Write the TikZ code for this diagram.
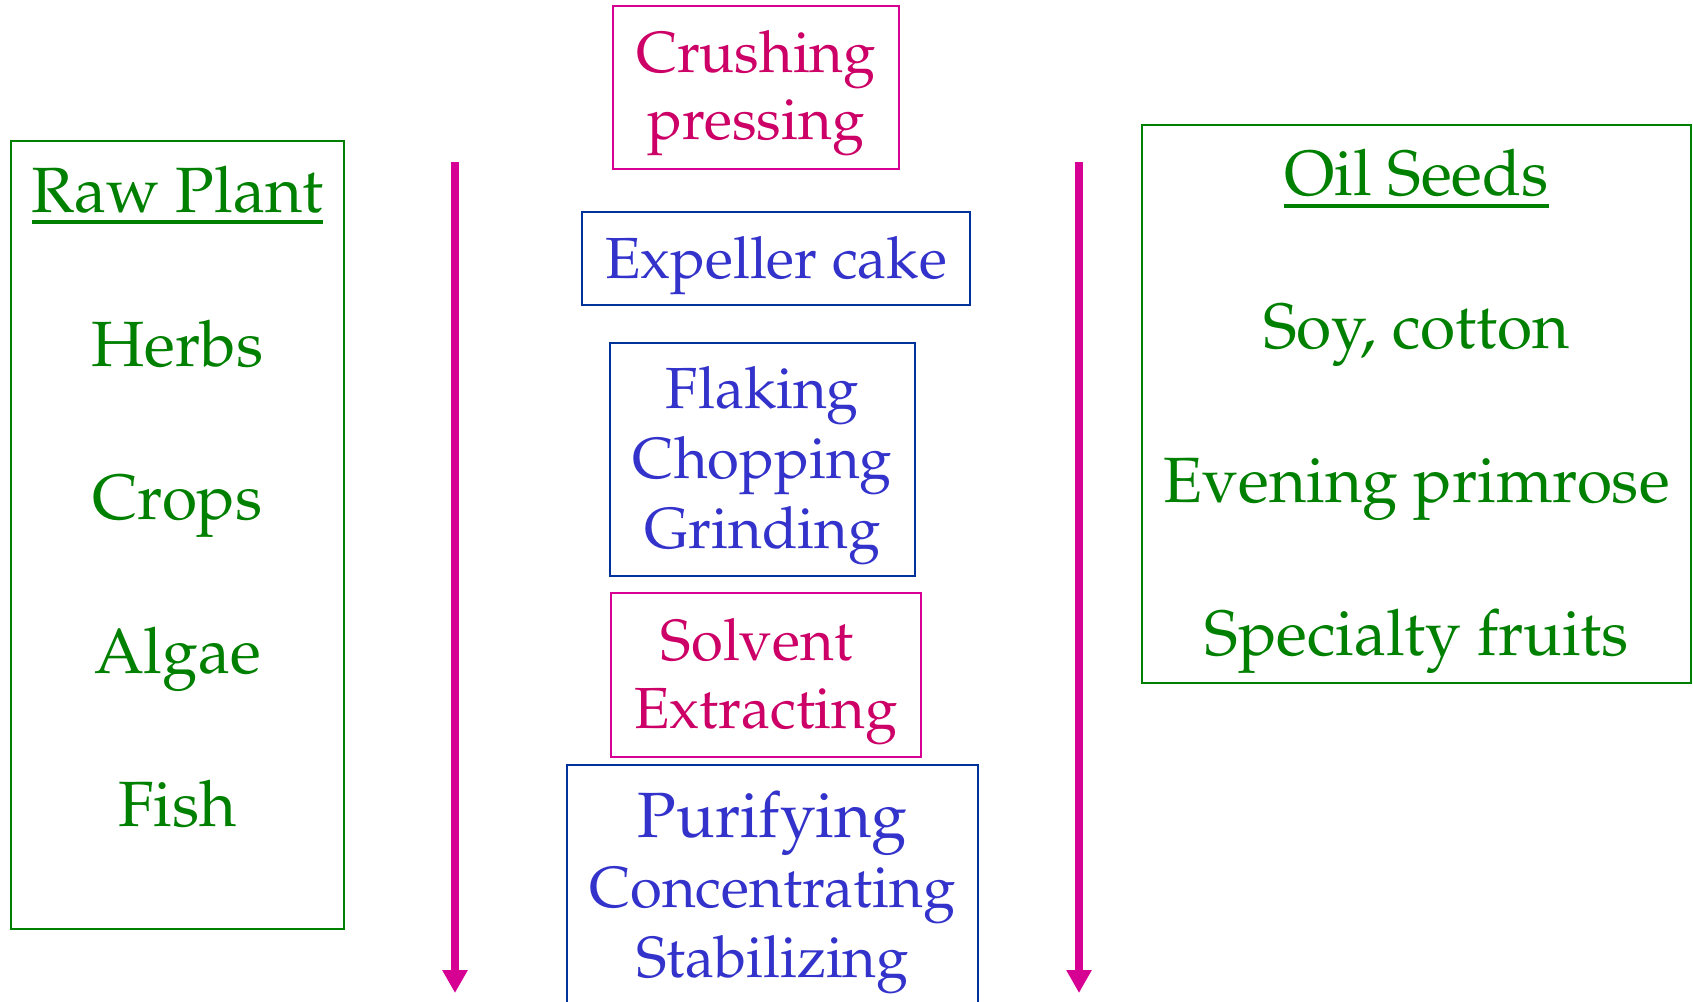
\documentclass[tikz,border=0pt]{standalone}
\usepackage[T1]{fontenc}
\usepackage{mathpazo}
\usetikzlibrary{arrows.meta}

\definecolor{leafgreen}{RGB}{0,128,0}
\definecolor{inkblue}{RGB}{51,51,204}
\definecolor{frameblue}{RGB}{0,51,153}
\definecolor{rosetext}{RGB}{204,0,102}
\definecolor{roseline}{RGB}{214,0,147}

\tikzset{
  sidetext/.style={inner sep=0pt, anchor=base, text=leafgreen,
    font=\fontsize{64}{72}\selectfont},
  midtext/.style={inner sep=0pt, anchor=base,
    font=\fontsize{58}{70}\selectfont},
  bluetext/.style={midtext, text=inkblue},
  bigbluetext/.style={bluetext, font=\fontsize{64}{72}\selectfont},
  rosetextstyle/.style={midtext, text=rosetext},
  greenbox/.style={draw=leafgreen, line width=2.5pt, inner sep=0pt, outer sep=0pt},
  bluebox/.style={draw=frameblue, line width=2.5pt, inner sep=0pt, outer sep=0pt},
  rosebox/.style={draw=roseline, line width=2pt, inner sep=0pt, outer sep=0pt},
  flowarrow/.style={draw=roseline, line width=8pt,
    -{Triangle[width=24pt,length=23pt]}},
  headline/.style={draw=leafgreen, line width=3.5pt}
}

\begin{document}
\begin{tikzpicture}[x=1pt, y=-1pt]
  \clip (0,0) rectangle (1693,1001);
  \fill[white] (0,0) rectangle (1693,1001);

  % left column: raw plant sources
  \node[greenbox, minimum width=333pt, minimum height=788pt] (rawbox) at (177.5,535) {};
  \node[sidetext] (rawtitle) at (177.5,212) {Raw Plant};
  \draw[headline] ([yshift=-10pt]rawtitle.base west) -- ([yshift=-10pt]rawtitle.base east);
  \node[sidetext] (herbs) at (177.5,366) {Herbs};
  \node[sidetext] (crops) at (177.5,519) {Crops};
  \node[sidetext] (algae) at (177.5,673) {Algae};
  \node[sidetext] (fish)  at (177.5,826) {Fish};

  % right column: oil seeds
  \node[greenbox, minimum width=549pt, minimum height=558pt] (seedbox) at (1416.5,404) {};
  \node[sidetext] (seedtitle) at (1416.5,195) {Oil Seeds};
  \draw[headline] ([yshift=-11pt]seedtitle.base west) -- ([yshift=-11pt]seedtitle.base east);
  \node[sidetext] (soy)       at (1416.5,348) {Soy, cotton};
  \node[sidetext] (primrose)  at (1416.5,502) {Evening primrose};
  \node[sidetext] (specialty) at (1416.5,655) {Specialty fruits};

  % process steps
  \node[rosebox, minimum width=286pt, minimum height=163pt] (crushbox) at (756,87.5) {};
  \node[rosetextstyle] (crush1) at (756,72)  {Crushing};
  \node[rosetextstyle] (crush2) at (756,139) {pressing};

  \node[bluebox, minimum width=388pt, minimum height=93pt] (cakebox) at (776,258.5) {};
  \node[bluetext] (cake) at (776,278) {Expeller cake};

  \node[bluebox, minimum width=305pt, minimum height=233pt] (flakebox) at (762.5,459.5) {};
  \node[bluetext] (flake1) at (762.5,408) {Flaking};
  \node[bluetext] (flake2) at (762.5,478) {Chopping};
  \node[bluetext] (flake3) at (762.5,548) {Grinding};

  \node[rosebox, minimum width=310pt, minimum height=164pt] (solvbox) at (766,675) {};
  \node[rosetextstyle] (solv1) at (757,660) {Solvent};
  \node[rosetextstyle] (solv2) at (766,728) {Extracting};

  \node[bluebox, minimum width=411pt, minimum height=300pt] (purebox) at (772.5,915) {};
  \node[bigbluetext] (pure1) at (772.5,837) {Purifying};
  \node[bluetext] (pure2) at (772.5,907) {Concentrating};
  \node[bluetext] (pure3) at (772.5,977) {Stabilizing};

  % flow arrows
  \coordinate (leftstart) at (455,162);
  \coordinate (leftend)   at (455,993);
  \coordinate (rightstart) at (1079,162);
  \coordinate (rightend)   at (1079,993);
  \draw[flowarrow] (leftstart) -- (leftend);
  \draw[flowarrow] (rightstart) -- (rightend);
\end{tikzpicture}
\end{document}
